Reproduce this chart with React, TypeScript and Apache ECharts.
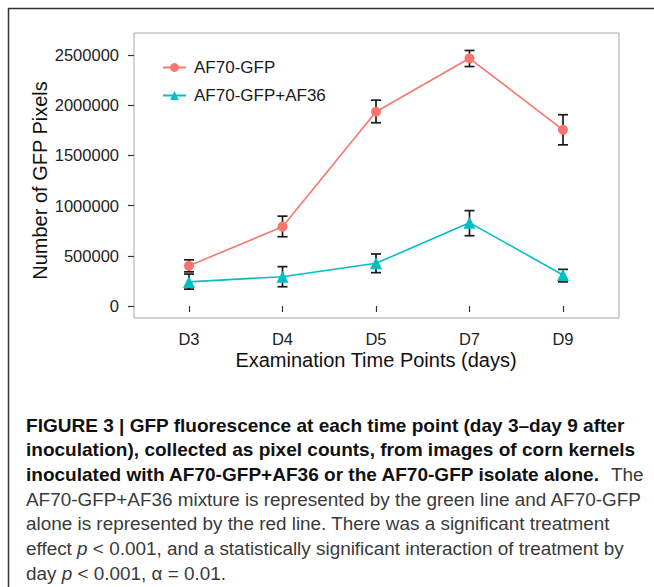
import React, { useEffect, useRef } from "react";
import * as echarts from "echarts";

const categories = ["D3", "D4", "D5", "D7", "D9"];
const af70Mean = [400000, 790000, 1935000, 2467000, 1755000];
const af70Low = [340000, 690000, 1825000, 2385000, 1605000];
const af70High = [460000, 895000, 2050000, 2545000, 1905000];
const mixMean = [240000, 292000, 425000, 830000, 309000];
const mixLow = [168000, 192000, 332000, 700000, 240000];
const mixHigh = [318000, 392000, 518000, 950000, 365000];
const yTickInterval = 500000;
const yMax = 2500000;
const seriesNames = ["AF70-GFP", "AF70-GFP+AF36"];

const captionLines = [
  "{b|FIGURE 3 | GFP fluorescence at each time point (day 3–day 9 after}",
  "{b|inoculation), collected as pixel counts, from images of corn kernels}",
  "{b|inoculated with AF70-GFP+AF36 or the AF70-GFP isolate alone.}{r|  The}",
  "{r|AF70-GFP+AF36 mixture is represented by the green line and AF70-GFP}",
  "{r|alone is represented by the red line. There was a significant treatment}",
  "{r|effect }{i|p}{r| < 0.001, and a statistically significant interaction of treatment by}",
  "{r|day }{i|p}{r| < 0.001, α = 0.01.}",
];

const FONT = "Liberation Sans, Arial, Helvetica, sans-serif";

export default function App() {
  const ref = useRef<HTMLDivElement>(null);
  useEffect(() => {
    if (!ref.current) return;
    const chart = echarts.init(ref.current, null, { renderer: "svg" });
    const errRender = (params: any, api: any) => {
      const x = api.value(0);
      const lo = api.coord([x, api.value(1)]);
      const hi = api.coord([x, api.value(2)]);
      const w = 5;
      const st = { stroke: "#1a1a1a", lineWidth: 1.7 };
      return {
        type: "group",
        children: [
          { type: "line", shape: { x1: lo[0], y1: lo[1], x2: hi[0], y2: hi[1] }, style: st },
          { type: "line", shape: { x1: lo[0] - w, y1: lo[1], x2: lo[0] + w, y2: lo[1] }, style: st },
          { type: "line", shape: { x1: hi[0] - w, y1: hi[1], x2: hi[0] + w, y2: hi[1] }, style: st },
        ],
      };
    };
    const captionGraphics = captionLines.map((t, i) => ({
      type: "text",
      x: 26,
      y: 425 + i * 24.7,
      style: {
        text: t,
        verticalAlign: "middle",
        align: "left",
        rich: {
          b: { fontFamily: FONT, fontSize: 19.05, fontWeight: "bold", fill: "#111" },
          r: { fontFamily: FONT, fontSize: 18.9, fill: "#3a3a3a" },
          i: { fontFamily: FONT, fontSize: 18.9, fontStyle: "italic", fill: "#3a3a3a" },
        },
      },
    }));
    chart.setOption({
      animation: false,
      backgroundColor: "#ffffff",
      textStyle: { fontFamily: FONT },
      grid: [
        { left: 189, right: 91, top: 55, bottom: 281, show: false, z: 1 },
        { left: 134, right: 35, top: 33, bottom: 269, show: true, borderColor: "#a8a8a8", borderWidth: 1, backgroundColor: "#ffffff", z: 0 },
      ],
      legend: {
        data: seriesNames,
        orient: "vertical",
        left: 162,
        top: 59,
        padding: 0,
        itemWidth: 23,
        itemHeight: 11,
        itemGap: 11,
        textStyle: { fontFamily: FONT, fontSize: 17, color: "#1a1a1a", padding: [0, 0, 0, 3] },
      },
      xAxis: [
        {
          type: "category",
          gridIndex: 0,
          data: categories,
          boundaryGap: false,
          offset: 12,
          axisLine: { show: false },
          axisTick: { show: true, length: 6, lineStyle: { color: "#333", width: 1.2 } },
          axisLabel: { fontFamily: FONT, fontSize: 16.5, color: "#222", margin: 12 },
          splitLine: { show: false },
          name: "Examination Time Points (days)",
          nameLocation: "middle",
          nameGap: 32,
          nameMoveOverlap: false,
          nameTextStyle: { fontFamily: FONT, fontSize: 20, color: "#111" },
        },
        { type: "value", gridIndex: 1, show: false },
      ],
      yAxis: [
        {
          type: "value",
          gridIndex: 0,
          min: 0,
          max: yMax,
          interval: yTickInterval,
          offset: 55,
          axisLine: { show: false },
          axisTick: { show: true, length: 6, lineStyle: { color: "#333", width: 1.2 } },
          axisLabel: {
            fontFamily: FONT,
            fontSize: 16.5,
            color: "#222",
            margin: 15,
            formatter: (v: number) => String(v),
          },
          splitLine: { show: false },
          name: "Number of GFP Pixels",
          nameLocation: "middle",
          nameGap: 84,
          nameMoveOverlap: false,
          nameTextStyle: { fontFamily: FONT, fontSize: 20, color: "#111" },
        },
        { type: "value", gridIndex: 1, show: false },
      ],
      series: [
        {
          name: "err1",
          type: "custom",
          xAxisIndex: 0,
          yAxisIndex: 0,
          z: 2,
          encode: { x: 0, y: [1, 2] },
          renderItem: errRender,
          data: categories.map((c, i) => [i, af70Low[i], af70High[i]]),
        },
        {
          name: "err2",
          type: "custom",
          xAxisIndex: 0,
          yAxisIndex: 0,
          z: 2,
          encode: { x: 0, y: [1, 2] },
          renderItem: errRender,
          data: categories.map((c, i) => [i, mixLow[i], mixHigh[i]]),
        },
        {
          name: seriesNames[0],
          type: "line",
          z: 3,
          data: af70Mean,
          symbol: "circle",
          symbolSize: 10,
          color: "#F8766D",
          lineStyle: { color: "#F8766D", width: 1.6 },
          itemStyle: { color: "#F8766D" },
        },
        {
          name: seriesNames[1],
          type: "line",
          z: 3,
          data: mixMean,
          symbol: "triangle",
          symbolSize: 12,
          color: "#00BFC4",
          lineStyle: { color: "#00BFC4", width: 1.6 },
          itemStyle: { color: "#00BFC4" },
        },
      ],
      graphic: [
        {
          type: "polyline",
          shape: { points: [[8.5, 600], [8.5, 8.5], [660, 8.5]] },
          style: { stroke: "#333", lineWidth: 1.5, fill: null },
        },
        ...captionGraphics,
      ],
    });
    return () => chart.dispose();
  }, []);
  return (
    <div
      ref={ref}
      style={{ position: "absolute", left: 0, top: 0, width: 654, height: 587 }}
    />
  );
}
